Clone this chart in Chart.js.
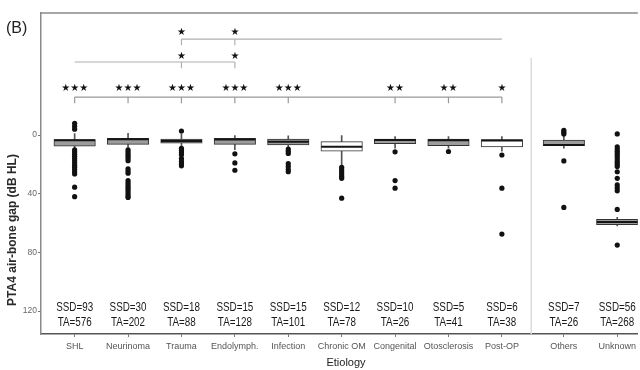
<!DOCTYPE html>
<html><head><meta charset="utf-8">
<script src="https://cdn.jsdelivr.net/npm/chart.js@4.4.1/dist/chart.umd.min.js"></script>
<style>html,body{margin:0;padding:0;background:#fff;overflow:hidden}canvas{display:block}</style>
</head><body>
<canvas id="c" width="640" height="370"></canvas>
<script>
// ---------- data ----------
const categories = ['SHL','Neurinoma','Trauma','Endolymph.','Infection','Chronic OM','Congenital','Otosclerosis','Post-OP','Others','Unknown'];
const panelOf = [1,1,1,1,1,1,1,1,1,2,2];
const ssdCounts = [93,30,18,15,15,12,10,5,6,7,56];
const taCounts = [576,202,88,128,101,78,26,41,38,26,268];
const whiskerTop    = [-1, -1.2, -0.5, 0, 0.5, 0, 1, 1, 1, 0, 56];
const q1Values      = [3, 2.3, 2.7, 2.3, 2.7, 4.5, 2.7, 2.7, 3, 3.4, 57.5];
const medianValues  = [3.5, 2.8, 4, 3, 4.5, 8, 3.4, 3.5, 3.7, 6.8, 59.3];
const q3Values      = [7.5, 6.3, 5.5, 6.3, 6.8, 11, 5.9, 7.3, 8, 7.3, 61];
const whiskerBottom = [9, 8.5, 8, 10, 8, 20.5, 9, 9, 11, 9, 62];
const outlierValues = [
  [-8,-6,-4,10,11.5,13,14.5,16,17.5,19,20.5,22,23.5,25,26.5,35.5,42],
  [10,11.5,13,14.5,16,17.5,23,24.5,26,31,32.5,34,35.5,37,38.5,40,41.5,42.5],
  [-2.7,9,10.5,12,13.5,16,18,19.5,21],
  [12.8,19,24],
  [9.5,11,12.5,19.5,21.5,23.5,25],
  [22,23.5,25,26.5,28,29.5,43],
  [11.4,31,36.2],
  [11.2],
  [13.6,36.2,67.5],
  [-3.2,-2,-0.8,17.6,49.3],
  [-0.8,8,9.5,11,12.5,14,15.5,17,18.5,20,21.5,25,29.5,34,36,38,50.7,75]
];
// significance marks (left panel), reference groups: Chronic OM, SHL, Post-OP
const sigVsChronicOM = ['***','***','***','***','***','','**','**','*'];
const sigVsSHL       = ['','','*','*','','','','',''];
const sigVsPostOP    = ['','','*','*','','','','',''];
const yTickValues = [0,40,80,120];

// ---------- layout / style ----------
const FONT = '"Liberation Sans", Arial, sans-serif';
const boxFill = ['#9c9c9c','#9c9c9c','#9c9c9c','#9c9c9c','#9c9c9c','#ffffff','#9c9c9c','#9c9c9c','#ffffff','#9c9c9c','#9c9c9c'];
const pos = i => i + (panelOf[i] === 2 ? 0.16 : 0);
const bracketRows = [
  {marks: sigVsChronicOM, ref: 5, level: -25.9, starLevel: -31.6, color: '#999999'},
  {marks: sigVsSHL,       ref: 0, level: -49.8, starLevel: -53.9, color: '#b0b0b0'},
  {marks: sigVsPostOP,    ref: 8, level: -65.4, starLevel: -69.7, color: '#b0b0b0'}
];
const tickLen = 4.2;

const bracketDatasets = bracketRows.map(r => {
  const marked = r.marks.map((m,i)=>m?i:-1).filter(i=>i>=0);
  const lo = Math.min(r.ref, ...marked), hi = Math.max(r.ref, ...marked);
  const pts = [{x:pos(lo),y:r.level},{x:pos(hi),y:r.level},{x:pos(hi),y:null}];
  marked.forEach(i => { pts.push({x:pos(i),y:r.level},{x:pos(i),y:r.level+tickLen},{x:pos(i),y:null}); });
  return {type:'line', data: pts, borderColor: r.color, borderWidth: 1.2, pointRadius: 0, spanGaps: false, order: 5};
});

const sepX = pos(8) + 0.55;
const separator = {type:'line', data:[{x:sepX,y:-52.5},{x:sepX,y:135.6}], borderColor:'#dcdcdc', borderWidth:1, pointRadius:0, order:6};

const whiskers = {type:'bar', data: categories.map((c,i)=>({x:pos(i), y:[whiskerTop[i], whiskerBottom[i]]})),
  backgroundColor:'#555', borderWidth:0, barThickness:1, maxBarThickness:1, grouped:false, order:3};
const boxes = {type:'bar', data: categories.map((c,i)=>({x:pos(i), y:[q1Values[i], q3Values[i]]})),
  backgroundColor: boxFill, borderColor:'#333', borderWidth:1, borderSkipped:false, barThickness:41.5, maxBarThickness:41.5, grouped:false, order:2};
const medians = {type:'scatter', data: categories.map((c,i)=>({x:pos(i), y:medianValues[i]})),
  pointStyle:'line', pointRadius:20.5, borderColor:'#151515', borderWidth:2, order:1};
const outliers = {type:'scatter', data: outlierValues.flatMap((arr,i)=>arr.map(v=>({x:pos(i), y:v}))),
  pointRadius:2.6, backgroundColor:'#111', borderWidth:0, order:0};

const annot = {
  id:'annot',
  afterDraw(chart){
    const {ctx, chartArea:a, scales:{x, y}} = chart;
    ctx.save();
    ctx.strokeStyle='#8a8a8a'; ctx.lineWidth=1.5;
    ctx.beginPath(); ctx.moveTo(a.left, a.top); ctx.lineTo(a.right, a.top); ctx.stroke();
    ctx.fillStyle='#222'; ctx.textBaseline='middle';
    ctx.font='16px '+FONT; ctx.textAlign='left'; ctx.fillText('(B)', 6, 29);
    ctx.save(); ctx.translate(13, 230); ctx.rotate(-Math.PI/2);
    ctx.font='bold 12px '+FONT; ctx.textAlign='center'; ctx.fillStyle='#2a2a2a';
    ctx.fillText('PTA4 air-bone gap (dB HL)', 0, 0); ctx.restore();
    ctx.font='11px '+FONT; ctx.textAlign='center'; ctx.fillStyle='#222';
    ctx.fillText('Etiology', 346, 363);
    // counts
    ctx.font='12px '+FONT; ctx.fillStyle='#1a1a1a';
    const cond = (t, px, py) => { ctx.save(); ctx.translate(px, py); ctx.scale(0.82, 1); ctx.fillText(t, 0, 0); ctx.restore(); };
    categories.forEach((c,i)=>{
      const px = x.getPixelForValue(pos(i));
      cond('SSD='+ssdCounts[i], px, y.getPixelForValue(117.9));
      cond('TA='+taCounts[i], px, y.getPixelForValue(128.1));
    });
    // stars
    ctx.font='10px "DejaVu Sans", sans-serif'; ctx.fillStyle='#111';
    bracketRows.forEach(r=>{
      r.marks.forEach((m,i)=>{ if(m) ctx.fillText(m.replace(/\*/g,'\u2605'), x.getPixelForValue(pos(i)), y.getPixelForValue(r.starLevel)); });
    });
    ctx.restore();
  }
};

new Chart(document.getElementById('c'), {
  type:'bar',
  data:{datasets:[outliers, medians, boxes, whiskers, ...bracketDatasets, separator]},
  options:{
    responsive:false, animation:false, events:[], devicePixelRatio:1,
    layout:{autoPadding:false, padding:{top:13,left:0,right:0,bottom:0}},
    plugins:{legend:{display:false}, tooltip:{enabled:false}},
    scales:{
      x:{type:'linear', min:-0.63, max:10.545, offset:false,
        afterFit(s){ s.height = 36; },
        afterBuildTicks(s){ s.ticks = categories.map((c,i)=>({value:pos(i)})); },
        ticks:{autoSkip:false, maxRotation:0, minRotation:0, padding:4, color:'#555', font:{family:FONT, size:9},
          callback:(v,i)=>categories[i]},
        grid:{offset:false, drawOnChartArea:false, drawTicks:true, tickLength:3, color:'#777'},
        border:{display:true, color:'#555', width:1.5}
      },
      y:{type:'linear', reverse:true, min:-83.2, max:135.6,
        afterFit(s){ s.width = 41; },
        afterBuildTicks(s){ s.ticks = yTickValues.map(v=>({value:v})); },
        ticks:{padding:1, color:'#666', font:{family:FONT, size:8.5}},
        grid:{drawOnChartArea:false, drawTicks:true, tickLength:3, color:'#777'},
        border:{display:true, color:'#8a8a8a', width:1.5}
      }
    }
  },
  plugins:[annot]
});
</script>
</body></html>
